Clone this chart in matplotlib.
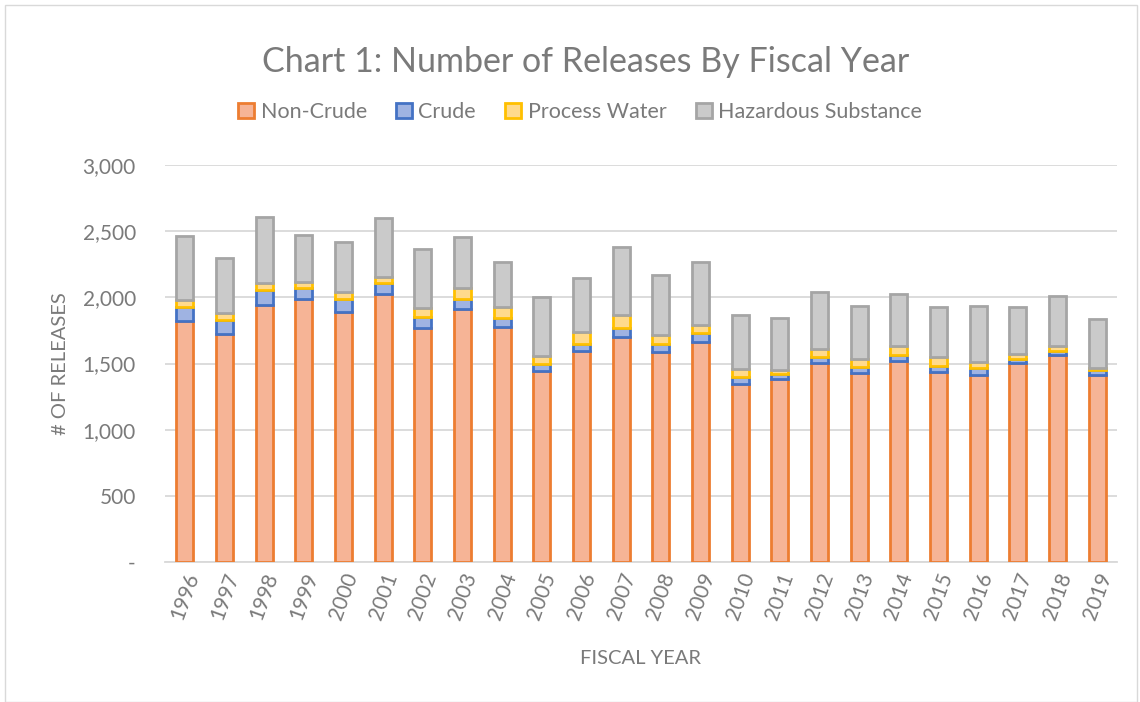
import numpy as np
import matplotlib
matplotlib.use('Agg')
from matplotlib import pyplot as plt
from matplotlib.patches import Rectangle

# values
years = ['1996', '1997', '1998', '1999', '2000', '2001', '2002', '2003',
         '2004', '2005', '2006', '2007', '2008', '2009', '2010', '2011',
         '2012', '2013', '2014', '2015', '2016', '2017', '2018', '2019']
non_crude = [1822, 1723, 1942, 1990, 1890, 2023, 1766, 1912, 1774, 1446, 1595, 1703,
             1590, 1665, 1348, 1383, 1507, 1426, 1519, 1436, 1416, 1502, 1562, 1416]
crude = [103, 106, 111, 78, 98, 83, 88, 78, 73, 51, 50, 66,
         58, 63, 53, 40, 40, 50, 46, 48, 48, 35, 35, 35]
process_water = [55, 51, 58, 51, 53, 46, 68, 79, 77, 63, 91, 96,
                 68, 61, 60, 26, 61, 58, 70, 68, 45, 35, 35, 18]
hazardous = [486, 420, 497, 353, 375, 446, 444, 388, 341, 446, 411, 514,
             456, 476, 406, 398, 435, 401, 391, 373, 426, 358, 380, 370]

series = [('Non-Crude', non_crude, '#F6B496', '#ED7D31'),
          ('Crude', crude, '#9FB3E2', '#4472C4'),
          ('Process Water', process_water, '#FFDA8C', '#FFC000'),
          ('Hazardous Substance', hazardous, '#CACACA', '#A5A5A5')]

plt.rcParams['font.family'] = ['Lato', 'DejaVu Sans']
grey = '#7A7A7A'

fig = plt.figure(figsize=(11.4, 7.02), dpi=100)
ax = fig.add_axes([165 / 1140, 1 - 562 / 702, (1117 - 165) / 1140, (562 - 165) / 702])

x = np.arange(len(years))
bottom = np.zeros(len(years))
for name, vals, face, edge in series:
    ax.bar(x, vals, 0.43, bottom=bottom, color=face, edgecolor=edge,
           linewidth=2, label=name, zorder=3)
    bottom += np.array(vals)

ax.set_ylim(0, 3000)
ax.set_xlim(-0.5, len(years) - 0.5)
ax.set_yticks(range(0, 3001, 500))
ax.set_yticklabels(['-'] + ['{:,}'.format(v) for v in range(500, 3001, 500)])
ax.set_xticks(x)
ax.set_xticklabels(years, rotation=70, ha='center', va='top')
ax.tick_params(axis='both', length=0, colors=grey, labelsize=15)
ax.tick_params(axis='y', pad=21)
ax.tick_params(axis='x', pad=6)
ax.grid(axis='y', color='#D9D9D9', linewidth=1.3, zorder=0)
for s in ['top', 'right', 'left']:
    ax.spines[s].set_visible(False)
ax.spines['bottom'].set_color('#D9D9D9')
ax.spines['bottom'].set_linewidth(1.3)

ax.set_ylabel('# OF RELEASES', color=grey, fontsize=14.5, labelpad=10)
fig.text(640 / 1140, 1 - 658 / 702, 'FISCAL YEAR', color=grey, fontsize=14.5,
         ha='center', va='center')
fig.text(586 / 1140, 1 - 62 / 702, 'Chart 1: Number of Releases By Fiscal Year',
         color=grey, fontsize=24.5, ha='center', va='center')

fig.legend(loc='center', bbox_to_anchor=(580 / 1140, 1 - 112 / 702), ncol=4,
           frameon=False, fontsize=15.5, labelcolor=grey, handlelength=0.75,
           handleheight=0.75, columnspacing=1.35, handletextpad=0.3)

fig.patches.append(Rectangle((5 / 1140, 0), 1132 / 1140, 1 - 5 / 702,
                             transform=fig.transFigure, fill=False,
                             edgecolor='#D9D9D9', linewidth=1))

fig.savefig('out.png', dpi=100)
